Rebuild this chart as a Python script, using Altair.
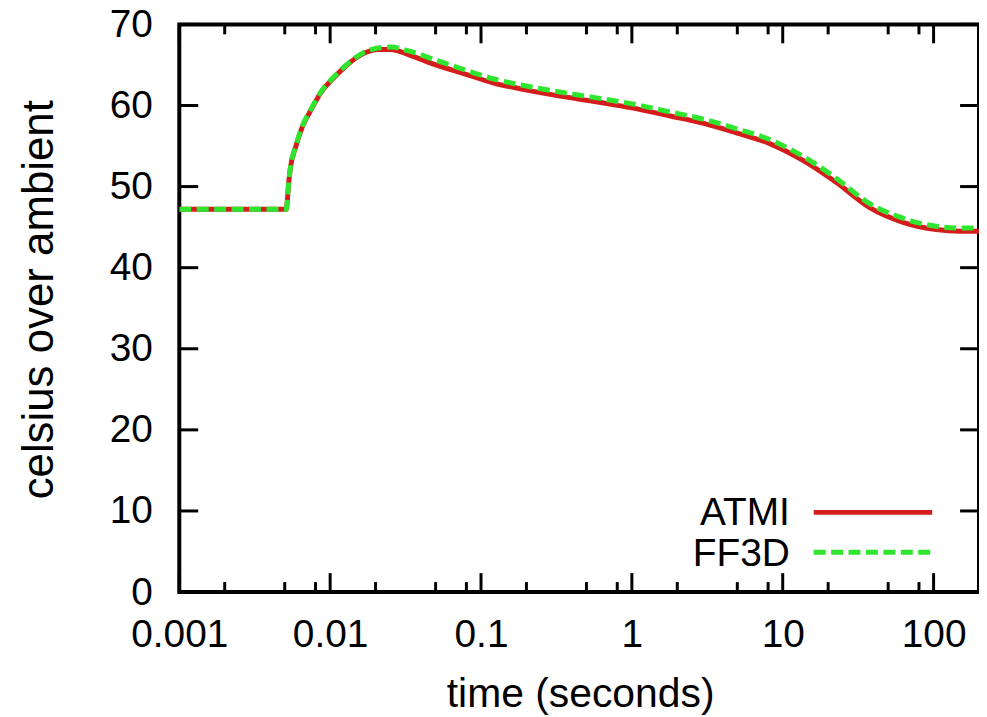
import altair as alt
import pandas as pd

# ---- data ----
time_s = [0.001, 0.00512, 0.0053, 0.00546, 0.00589, 0.00652, 0.00759, 0.00884,
          0.0103, 0.0126, 0.0162, 0.0209, 0.025, 0.035, 0.05, 0.075, 0.12, 0.2,
          0.44, 0.65, 1.0, 1.8, 3.0, 5.0, 8.2, 13.7, 22.7, 37.7, 62.7, 104, 150, 200]
atmi = [47.2, 47.2, 50.3, 52.4, 54.8, 57.3, 59.7, 61.8,
        63.2, 64.8, 66.3, 66.9, 66.9, 66.1, 65.0, 64.0, 62.8, 61.9,
        60.8, 60.3, 59.7, 58.7, 57.8, 56.6, 55.3, 53.2, 50.5, 47.4, 45.6, 44.7, 44.5, 44.5]
ff3d = [47.2, 47.2, 50.3, 52.4, 54.9, 57.4, 59.8, 61.9,
        63.3, 64.9, 66.4, 67.1, 67.2, 66.6, 65.6, 64.5, 63.3, 62.4,
        61.3, 60.8, 60.2, 59.2, 58.3, 57.1, 55.8, 53.7, 51.0, 47.9, 46.1, 45.1, 44.9, 44.9]
series_names = ["ATMI", "FF3D"]
x_major = [0.001, 0.01, 0.1, 1, 10, 100]
x_minor = [0.002, 0.005, 0.008, 0.02, 0.05, 0.08, 0.2, 0.5, 0.8,
           2, 5, 8, 20, 50, 80]
y_major = [0, 10, 20, 30, 40, 50, 60, 70]

# ---- style ----
W, H = 803, 570
FONT = "Liberation Sans"
FS = 39
RED = "#d41c1c"
GREEN = "#2fe62f"
LW = 5

df = pd.DataFrame({"t": time_s, "ATMI": atmi, "FF3D": ff3d})

xs = alt.Scale(type="log", domain=[0.001, 200], nice=False)
ys = alt.Scale(domain=[0, 70], nice=False, zero=False)

XAX = alt.Axis(values=x_major, format="~g", title="time (seconds)",
               domain=False, ticks=False, tickSize=0, grid=False,
               labelFont=FONT, labelFontSize=FS, labelColor="black",
               labelBaseline="alphabetic", labelPadding=55,
               labelFlush=False, labelOverlap=False,
               titleFont=FONT, titleFontSize=41, titleFontWeight="normal",
               titleColor="black", titleBaseline="alphabetic",
               titleX=W / 2 + 1, titleY=115, titleAlign="center")
YAX = alt.Axis(values=y_major, title="celsius over ambient",
               domain=False, ticks=False, tickSize=0, grid=False,
               labelFont=FONT, labelFontSize=FS, labelColor="black",
               labelPadding=27, labelBaseline="middle",
               labelFlush=False, labelOverlap=False,
               titleFont=FONT, titleFontSize=44, titleFontWeight="normal",
               titleColor="black", titleBaseline="alphabetic",
               titleAngle=270, titleAlign="center",
               titleX=-127, titleY=276)


def X(field):
    return alt.X(field, type="quantitative", scale=xs, axis=XAX)


def Y(field):
    return alt.Y(field, type="quantitative", scale=ys, axis=YAX)


red = alt.Chart(df).mark_line(color=RED, strokeWidth=LW, interpolate="monotone",
                              clip=True).encode(x=X("t"), y=Y("ATMI"))
green = alt.Chart(df).mark_line(color=GREEN, strokeWidth=LW, strokeDash=[12, 5.5],
                                interpolate="monotone", clip=True).encode(x=X("t"), y=Y("FF3D"))

xmaj = pd.DataFrame({"t": x_major})
xmin = pd.DataFrame({"t": x_minor})
ymaj = pd.DataFrame({"v": y_major})

tick_style = dict(color="black", strokeWidth=3)
ticks = [
    alt.Chart(xmaj).mark_rule(**tick_style).encode(x=X("t"), y=alt.value(H), y2=alt.value(H - 19)),
    alt.Chart(xmaj).mark_rule(**tick_style).encode(x=X("t"), y=alt.value(0), y2=alt.value(19)),
    alt.Chart(xmin).mark_rule(**tick_style).encode(x=X("t"), y=alt.value(H), y2=alt.value(H - 10)),
    alt.Chart(xmin).mark_rule(**tick_style).encode(x=X("t"), y=alt.value(0), y2=alt.value(10)),
    alt.Chart(ymaj).mark_rule(**tick_style).encode(y=Y("v"), x=alt.value(0), x2=alt.value(19)),
    alt.Chart(ymaj).mark_rule(**tick_style).encode(y=Y("v"), x=alt.value(W), x2=alt.value(W - 19)),
]

# ---- gnuplot style key (text left, sample right) ----
leg1 = pd.DataFrame({"name": [series_names[0]]})
leg2 = pd.DataFrame({"name": [series_names[1]]})
legend = [
    alt.Chart(leg1).mark_text(align="right", baseline="alphabetic", font=FONT,
                              fontSize=FS, color="black").encode(
        text="name:N", x=alt.value(613), y=alt.value(503)),
    alt.Chart(leg2).mark_text(align="right", baseline="alphabetic", font=FONT,
                              fontSize=FS, color="black").encode(
        text="name:N", x=alt.value(613), y=alt.value(544)),
    alt.Chart(leg1).mark_rule(color=RED, strokeWidth=LW).encode(
        x=alt.value(637), x2=alt.value(756), y=alt.value(490)),
    alt.Chart(leg2).mark_rule(color=GREEN, strokeWidth=LW, strokeDash=[12, 5.5]).encode(
        x=alt.value(637), x2=alt.value(756), y=alt.value(530)),
]

chart = alt.layer(red, green, *ticks, *legend).properties(
    width=W, height=H,
    autosize=alt.AutoSizeParams(type="none"),
    padding={"left": 172, "top": 15, "right": 0, "bottom": 124},
    background="white",
).configure_view(stroke="black", strokeWidth=4)

chart.save("out.html", embed_options={"renderer": "svg", "actions": False})
